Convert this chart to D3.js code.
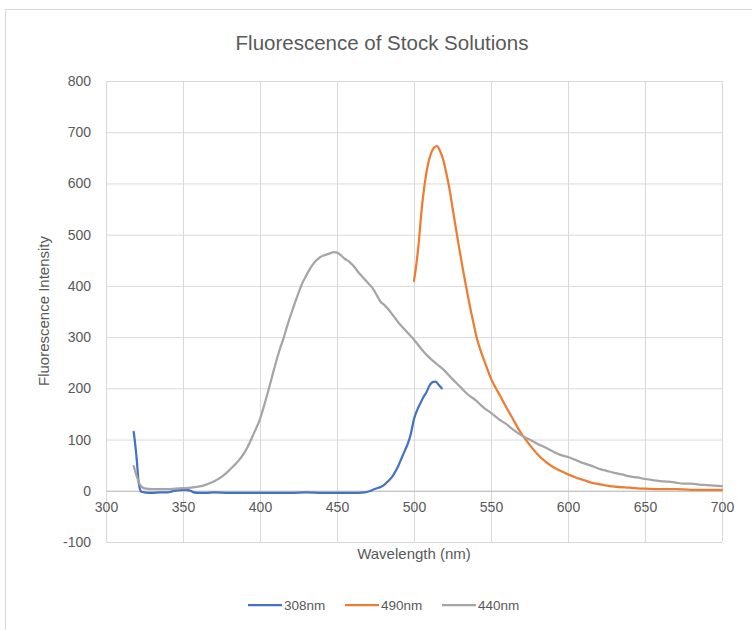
<!DOCTYPE html>
<html>
<head>
<meta charset="utf-8">
<script src="https://cdn.jsdelivr.net/npm/d3@7"></script>
<style>
  html, body { margin: 0; padding: 0; background: #fff; }
  svg { display: block; font-family: "Liberation Sans", Arial, sans-serif; }
</style>
</head>
<body>
<svg id="chart" width="752" height="630"></svg>
<script>
// ---- data ----
const seriesNames = ["308nm", "490nm", "440nm"];
const seriesColors = ["#4472c4", "#ed7d31", "#a5a5a5"];

const wl308 = [318,320,321,322,323,325,330,335,340,343,346,349,352,355,357,360,365,370,380,390,400,410,420,430,440,450,460,468,471,474,477,480,483,486,488,490,492,494,496,498,500,502,504,506,508,510,512,514,516,518];
const fl308 = [115,60,22,4,-2,-3,-4,-3,-3,-1,1,2,2,0,-3,-4,-4,-3,-4,-4,-4,-4,-4,-3,-4,-4,-4,-3,-1,3,6,10,18,28,38,50,64,78,92,112,140,157,170,182,192,205,212,213,207,200];

const wl490 = [500,501,503,505,507,509,511,513,515,517,519,521,523,525,527,529,531,533,535,537,539,541,543,545,547,550,553,556,559,562,565,568,571,575,580,585,590,595,600,605,610,615,620,625,630,640,650,660,670,680,690,700];
const fl490 = [410,430,482,550,600,636,658,670,673,663,646,620,590,553,516,480,445,412,380,350,322,296,276,259,243,219,201,185,168,152,136,120,106,90,72,58,47,39,32,26,21,16,13,10,8,6,4,3,3,2,2,2];

const wl440 = [318,320,322,324,326,330,335,340,345,350,355,360,365,370,375,380,385,390,393,396,400,403,406,409,412,415,418,421,424,427,430,433,436,439,442,445,448,450,452,455,458,461,464,467,470,473,476,478,481,484,487,490,493,496,500,505,510,515,520,525,530,535,540,545,550,555,560,565,570,575,580,585,590,595,600,605,610,615,620,625,630,635,640,645,650,655,660,665,670,675,680,685,690,695,700];
const fl440 = [48,28,12,6,4,3,3,3,4,5,6,8,12,18,27,40,55,75,92,112,140,170,202,236,268,295,325,352,378,402,420,436,448,456,460,463,466,465,461,453,447,438,426,416,406,396,381,370,362,352,340,328,318,308,295,276,260,247,234,218,203,188,177,163,152,140,130,118,108,100,92,85,77,70,66,60,54,49,43,39,35,32,28,26,23,21,19,18,16,14,14,12,11,10,9];

const xTicks = [300,350,400,450,500,550,600,650,700];
const yTicks = [-100,0,100,200,300,400,500,600,700,800];

const titleText = "Fluorescence of Stock Solutions";
const xTitle = "Wavelength (nm)";
const yTitle = "Fluorescence Intensity";

// ---- drawing ----
const svg = d3.select("#chart");
const textColor = "#595959";
const gridColor = "#d9d9d9";
const fam = "Liberation Sans, Arial, sans-serif";

// chart area border
svg.append("rect")
  .attr("x", 5.5).attr("y", 9.5).attr("width", 800).attr("height", 700)
  .attr("fill", "#fff").attr("stroke", "#d9d9d9").attr("stroke-width", 1);

const x = d3.scaleLinear().domain([300, 700]).range([106, 722]);
const y = d3.scaleLinear().domain([-100, 800]).range([542, 81]);

// horizontal gridlines
svg.append("g")
  .attr("transform", `translate(${x(300)},0)`)
  .call(d3.axisLeft(y).tickValues(yTicks).tickSize(-(x(700) - x(300))).tickFormat(""))
  .call(g => g.select(".domain").remove())
  .call(g => g.selectAll("line").attr("stroke", gridColor).attr("stroke-width", 1));

// vertical gridlines
svg.append("g")
  .attr("transform", `translate(0,${y(-100)})`)
  .call(d3.axisBottom(x).tickValues(xTicks).tickSize(-(y(-100) - y(800))).tickFormat(""))
  .call(g => g.select(".domain").remove())
  .call(g => g.selectAll("line").attr("stroke", gridColor).attr("stroke-width", 1));

// y tick labels
svg.append("g")
  .attr("transform", `translate(${x(300)},0)`)
  .call(d3.axisLeft(y).tickValues(yTicks).tickSize(0).tickPadding(15).tickFormat(d => String(d)))
  .call(g => g.select(".domain").remove())
  .call(g => g.selectAll("text").attr("fill", textColor).style("font-size", "14px").style("font-family", fam));

// x axis at y = 0
svg.append("g")
  .attr("transform", `translate(0,${y(0)})`)
  .call(d3.axisBottom(x).tickValues(xTicks).tickSize(0).tickPadding(11).tickFormat(d => String(d)))
  .call(g => g.select(".domain").attr("stroke", "#bfbfbf").attr("stroke-width", 1))
  .call(g => g.selectAll("text").attr("fill", textColor).style("font-size", "14px").style("font-family", fam));

// lines
const line = d3.line().x(d => x(d[0])).y(d => y(d[1])).curve(d3.curveMonotoneX);
const seriesData = [
  d3.zip(wl308, fl308),
  d3.zip(wl490, fl490),
  d3.zip(wl440, fl440)
];
seriesData.forEach((data, i) => {
  svg.append("path")
    .datum(data)
    .attr("fill", "none")
    .attr("stroke", seriesColors[i])
    .attr("stroke-width", 2.25)
    .attr("stroke-linejoin", "round")
    .attr("stroke-linecap", "round")
    .attr("d", line);
});

// title
svg.append("text")
  .attr("x", 382).attr("y", 50)
  .attr("text-anchor", "middle")
  .attr("fill", textColor)
  .style("font-size", "20.5px")
  .text(titleText);

// axis titles
svg.append("text")
  .attr("x", 414).attr("y", 559)
  .attr("text-anchor", "middle")
  .attr("fill", textColor)
  .style("font-size", "15px")
  .text(xTitle);

svg.append("text")
  .attr("transform", `translate(49,311) rotate(-90)`)
  .attr("text-anchor", "middle")
  .attr("fill", textColor)
  .style("font-size", "15px")
  .text(yTitle);

// legend
const legendX = [248, 345, 442];
const legendY = 605;
seriesNames.forEach((name, i) => {
  const g = svg.append("g").attr("transform", `translate(${legendX[i]},${legendY})`);
  g.append("line")
    .attr("x1", 0).attr("x2", 34).attr("y1", 0).attr("y2", 0)
    .attr("stroke", seriesColors[i]).attr("stroke-width", 2.25);
  g.append("text")
    .attr("x", 36).attr("y", 5)
    .attr("fill", textColor)
    .style("font-size", "13.5px")
    .text(name);
});
</script>
</body>
</html>
